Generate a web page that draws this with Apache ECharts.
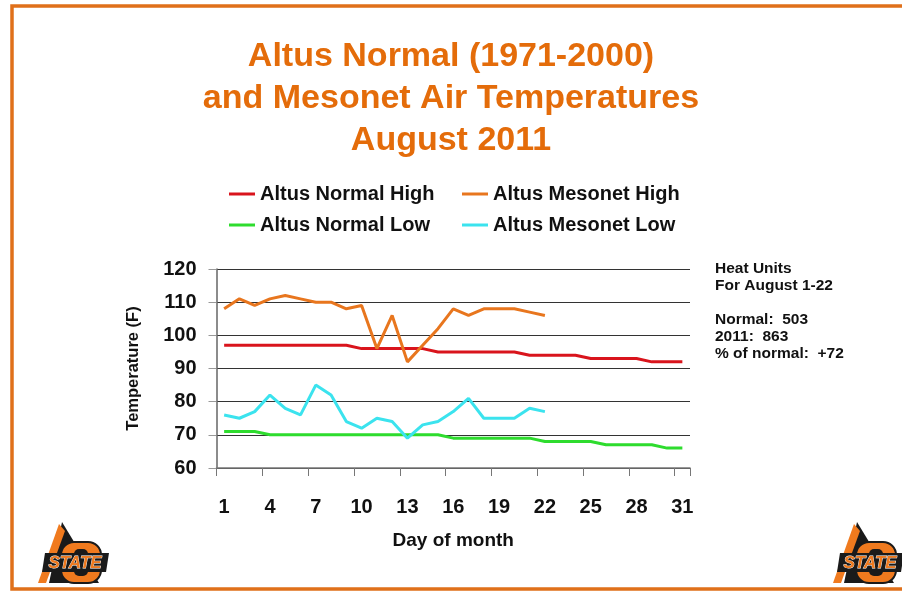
<!DOCTYPE html>
<html>
<head>
<meta charset="utf-8">
<script src="https://cdn.jsdelivr.net/npm/echarts@6/dist/echarts.min.js"></script>
<style>
html,body{margin:0;padding:0;background:#fff}
#chart{width:902px;height:594px}
</style>
</head>
<body>
<div id="chart"></div>
<script>
// day of month
var days=['1','2','3','4','5','6','7','8','9','10','11','12','13','14','15','16','17','18','19','20','21','22','23','24','25','26','27','28','29','30','31'];
// 1971-2000 normals
var normalHigh=[97,97,97,97,97,97,97,97,97,96,96,96,96,96,95,95,95,95,95,95,94,94,94,94,93,93,93,93,92,92,92];
var normalLow=[71,71,71,70,70,70,70,70,70,70,70,70,70,70,70,69,69,69,69,69,69,68,68,68,68,67,67,67,67,66,66];
// mesonet, Aug 1-22
var mesonetHigh=[108,111,109,111,112,111,110,110,108,109,96,106,92,97,102,108,106,108,108,108,107,106];
var mesonetLow=[76,75,77,82,78,76,85,82,74,72,75,74,69,73,74,77,81,75,75,75,78,77];
var noteLines=['Heat Units','For August 1-22','','Normal:  503','2011:  863','% of normal:  +72'];

var FONT='"Liberation Sans", Arial, sans-serif';
var ORANGE='#E46C0A';

function legendItem(name,left,top){
    return {
        data:[name],
        left:left,
        top:top,
        padding:0,
        icon:'rect',
        itemWidth:26,
        itemHeight:3,
        textStyle:{fontFamily:FONT,fontWeight:'bold',fontSize:20,color:'#111'}
    };
}

function logo(x,y){
    return {
        type:'group',
        x:x,
        y:y,
        children:[
            {type:'polygon',shape:{points:[[19,0],[56,61],[6,61]]},style:{fill:'#1a1a1a'}},
            {type:'polygon',shape:{points:[[16,2],[22,9],[3,61],[-5,61]]},style:{fill:'#F07A1E'}},
            {type:'rect',shape:{x:18,y:20,width:40,height:41,r:13},style:{fill:'#F07A1E',stroke:'#1a1a1a',lineWidth:2}},
            {type:'rect',shape:{x:31,y:27,width:14,height:27,r:5},style:{fill:'#1a1a1a'}},
            {type:'polygon',shape:{points:[[2,31],[66,31],[63,50],[-1,50]]},style:{fill:'#1a1a1a'}},
            {type:'text',style:{x:32,y:41,text:'STATE',align:'center',verticalAlign:'middle',font:'italic bold 17px '+FONT,fill:'#F07A1E',stroke:'#fff',lineWidth:0.8}}
        ]
    };
}

var chart=echarts.init(document.getElementById('chart'));
var option={
    backgroundColor:'#fff',
    animation:false,
    title:{
        text:'Altus Normal (1971-2000)\nand Mesonet Air Temperatures\nAugust 2011',
        left:'center',
        top:36,
        padding:[0,0,0,7],
        textStyle:{fontFamily:FONT,fontWeight:'bold',fontSize:34,lineHeight:42,color:ORANGE}
    },
    legend:[
        legendItem('Altus Normal High',229,184),
        legendItem('Altus Mesonet High',462,184),
        legendItem('Altus Normal Low',229,215),
        legendItem('Altus Mesonet Low',462,215)
    ],
    grid:{left:216.5,right:212,top:269,bottom:126,containLabel:false},
    xAxis:{
        type:'category',
        data:days,
        boundaryGap:true,
        name:'Day of month',
        nameLocation:'middle',
        nameGap:63,
        nameTextStyle:{fontFamily:FONT,fontWeight:'bold',fontSize:19,color:'#111'},
        axisLine:{lineStyle:{color:'#777',width:1.5}},
        axisTick:{show:true,interval:2,length:8,lineStyle:{color:'#777'}},
        axisLabel:{interval:2,margin:29,fontFamily:FONT,fontWeight:'bold',fontSize:20,color:'#111'},
        splitLine:{show:false}
    },
    yAxis:{
        type:'value',
        min:60,
        max:120,
        interval:10,
        name:'Temperature (F)',
        nameLocation:'middle',
        nameGap:75,
        nameRotate:90,
        nameTextStyle:{fontFamily:FONT,fontWeight:'bold',fontSize:16.5,color:'#111'},
        axisLine:{show:true,lineStyle:{color:'#666',width:1.5}},
        axisTick:{show:true,length:8,lineStyle:{color:'#999'}},
        axisLabel:{margin:20,fontFamily:FONT,fontWeight:'bold',fontSize:20,color:'#111'},
        splitLine:{show:true,lineStyle:{color:'#333',width:1}}
    },
    series:[
        {name:'Altus Normal High',type:'line',data:normalHigh,showSymbol:false,symbol:'none',color:'#D9141C',lineStyle:{width:3}},
        {name:'Altus Mesonet High',type:'line',data:mesonetHigh,showSymbol:false,symbol:'none',color:'#E8761E',lineStyle:{width:3}},
        {name:'Altus Normal Low',type:'line',data:normalLow,showSymbol:false,symbol:'none',color:'#2EDC2E',lineStyle:{width:3}},
        {name:'Altus Mesonet Low',type:'line',data:mesonetLow,showSymbol:false,symbol:'none',color:'#3BE3EE',lineStyle:{width:3}}
    ],
    graphic:[
        {type:'rect',shape:{x:12,y:6,width:905,height:583},style:{fill:'none',stroke:'#E0701A',lineWidth:3.5},z:-1},
        {type:'text',left:715,top:260,style:{text:noteLines.join('\n'),font:'bold 15.5px '+FONT,lineHeight:17,fill:'#111'}},
        logo(43,522),
        logo(838,522)
    ]
};
chart.setOption(option);
</script>
</body>
</html>
